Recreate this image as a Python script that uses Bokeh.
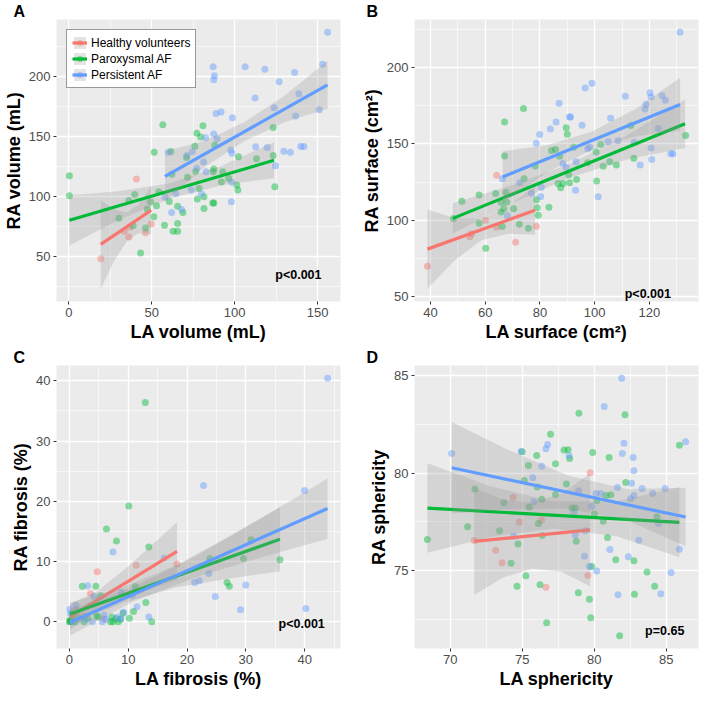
import numpy as np
from bokeh.plotting import figure
from bokeh.models import Range1d, FixedTicker, Label, Legend, LegendItem
from bokeh.layouts import gridplot
from bokeh.embed import file_html
from bokeh.resources import INLINE

FONT = "Liberation Sans"
GROUPS = ["Healthy volunteers", "Paroxysmal AF", "Persistent AF"]
COLORS = ["#F8766D", "#00BA38", "#619CFF"]

# ---------------- Panel A : volume ----------------
A_HV_X = [19.3, 33.4, 36.2, 36.8, 40.8, 46.3, 49.7]
A_HV_Y = [48, 71, 66, 74.2, 114.5, 69.6, 77]
A_PAF_X = [0.4, 0.4, 30.2, 36.2, 38.8, 39.8, 43.3, 46.3, 47.3, 49.3, 51.3, 51.5, 52.9, 54.3, 56.7, 57.7,
           60.6, 61.6, 62.2, 62.9, 65.6, 65.6, 65.6, 68.8, 71.0, 71.6, 76.0, 76.5, 77.2, 77.5, 78.5, 79.5,
           80.9, 81.5, 81.5, 86.8, 87.5, 87.1, 87.4, 88.0, 92.0, 92.8, 96.4, 101.3, 101.9, 102.3, 113.2,
           123.2, 123.2, 124.2]
A_PAF_Y = [117.2, 100.5, 81.7, 96.5, 75.5, 101.6, 52.7, 73.7, 89.5, 95.4, 83, 136.8, 92.2, 103.8, 159.7, 76,
           95.7, 137.4, 118.5, 71, 71, 91.7, 77.4, 86.6, 132.5, 116, 141.7, 120.7, 152.7, 97.8, 106.5, 149.5,
           158.9, 89.8, 99.7, 94.4, 94.4, 120.6, 122.8, 142.7, 112, 120.6, 114.8, 109.4, 105.3, 133, 131.4,
           157.5, 134.1, 108]
A_PER_X = [60, 58, 62, 64.6, 68, 71.2, 74.5, 73.9, 77.1, 80.1, 81.3, 82.8, 82.5, 87, 87.8, 87.4, 87.4, 88.8,
           89.4, 91.8, 97.7, 98.3, 98.3, 98, 98.7, 106.3, 112.3, 112.6, 118.2, 119.6, 123.8, 124.6, 126.8,
           129.6, 133.5, 136.1, 136.7, 138.7, 139.9, 141.7, 151, 153, 156]
A_PER_Y = [136.8, 99.2, 86.5, 102.4, 89, 134.1, 137.3, 105.3, 123.4, 101.9, 128.7, 120.6, 148.9, 208, 200.5,
           197.3, 152.1, 169, 148.1, 170.4, 138.7, 136, 111.8, 95.6, 165.6, 208, 182, 141.4, 206.1, 140.8,
           173.9, 125.5, 195.6, 137.6, 136.8, 203.2, 167, 185.5, 141.6, 141.6, 172.3, 210.2, 236.8]
A_FIT_X = [[19.3, 49.7], [0.4, 123.7], [58, 156]]
A_FIT_Y = [[60, 88.4], [80, 130.1], [116.7, 193]]
A_BAND_X = [[19.3, 27, 35, 42, 49.7], [0.4, 30, 60, 92, 123.7], [58, 82, 106, 130, 156]]
A_BAND_LO = [[23, 45.2, 62.6, 69.2, 68.4], [59, 80.2, 97.8, 109.3, 115.2], [95.7, 124.4, 146.1, 161.8, 173]]
A_BAND_HI = [[97, 89.2, 86.6, 93.2, 108.4], [101, 104.2, 110.8, 125.3, 145.2], [137.7, 146.4, 162.1, 183.8, 213]]

# ---------------- Panel B : surface ----------------
B_HV_X = [38.9, 54.4, 55, 60.1, 64.1, 64.2, 71.1, 78.7]
B_HV_Y = [69.6, 89, 91, 99.8, 95.3, 129.4, 85.5, 96]
B_PAF_X = [48.4, 51.5, 57.8, 57.8, 60.2, 63.8, 65.8, 65.8, 66.2, 66.8, 67.1, 67.1, 67.6, 67.9, 70.4, 72.5,
           74, 74.2, 75.8, 78.3, 78.8, 79, 79.4, 83.3, 84.2, 85.7, 86.6, 87.2, 87.6, 88.4, 89.6, 90, 90.5,
           90.8, 92.3, 93.4, 97.4, 100.5, 100.7, 102.2, 103.1, 105.5, 107.9, 113.2, 114.3, 133.2]
B_PAF_Y = [101.1, 112.3, 116.4, 97.9, 81.5, 117.4, 111.7, 105.3, 95.7, 107.4, 164.5, 142.1, 118.1, 111.7,
           107.4, 97.2, 173.4, 127.2, 94.7, 135.5, 113.4, 108.1, 103.2, 108.5, 145.7, 146.4, 124, 141.9,
           121.3, 124, 160.6, 156.4, 129.8, 124.5, 147.9, 126.6, 137.7, 144.7, 125.7, 149.6, 135.3, 138.3,
           136.2, 162.1, 140.6, 155.5]
B_PER_X = [66.3, 68.1, 72.6, 76.9, 78.7, 79.9, 80.5, 80.3, 83.8, 85.9, 87, 88.4, 89.6, 90.8, 91.2, 93, 93.2,
           95.4, 96.5, 97.4, 98.2, 99, 101.3, 104.9, 105.8, 108.5, 111.2, 114.4, 116.6, 118.4, 118.8, 120.2,
           120.6, 120.6, 120.8, 123.2, 124.6, 125.8, 127.8, 128.6, 131.2]
B_PER_Y = [127.2, 102.8, 124.5, 117.7, 150.5, 156.2, 121.5, 115.5, 159.8, 164.5, 176.8, 137.2, 134.7, 167.7,
           167.7, 119.6, 138.3, 162.3, 186.8, 146.8, 147.9, 190, 115.3, 151.5, 167, 152.1, 181.3, 151.1,
           136.2, 173, 176.2, 183.6, 180.9, 147.4, 139.8, 160.2, 181.9, 178.7, 143.6, 143.6, 223.4]
B_FIT_X = [[38.9, 78.2], [48.2, 133], [66.4, 131.2]]
B_FIT_Y = [[80.9, 106.4], [101.1, 163.3], [128.3, 176]]
B_BAND_X = [[38.9, 48.7, 58.6, 68.4, 78.2], [48.2, 69.4, 90.6, 111.8, 133], [66.4, 82.6, 98.8, 115, 131.2]]
B_BAND_LO = [[54.9, 73.3, 86.7, 91.0, 90.4], [91.1, 110.7, 127.7, 139.8, 147.3], [111.3, 131.2, 146.1, 155.1, 158.5]]
B_BAND_HI = [[106.9, 101.3, 100.7, 109.0, 122.4], [111.1, 122.7, 136.7, 155.8, 179.3], [145.3, 149.2, 158.1, 173.1, 193.5]]

# ---------------- Panel C : fibrosis ----------------
C_HV_X = [0.5, 1.2, 2.5, 3.6, 4.75, 5.8, 11.35, 18.3]
C_HV_Y = [0.5, 2.0, 1.0, 4.7, 8.3, 0.4, 9.4, 9.6]
C_PAF_X = [12.9, 10.1, 6.3, 8.0, 13.5, 2.2, 4.5, 5.3, 0, 0.1, 0.2, 0.45, 1.4, 2.5, 3.2, 4.6, 4.9, 7.0, 7.4,
           7.9, 8.3, 8.7, 9.1, 10.2, 10.9, 11.2, 13, 14, 23.9, 26.8, 27.2, 29.6, 30.9, 35.8, 7.2, 0.3, 1.0]
C_PAF_Y = [36.4, 19.2, 15.4, 13.4, 12.4, 5.9, 5.9, 4.3, 0, 0.3, 0, 1.3, 0.8, 0, 0.6, 1.0, 0.8, 0, 0,
           0.5, 0, 0.4, 1.4, 0.6, 1.7, 5.8, 3.2, 0, 10.5, 6.5, 5.9, 10.5, 13.6, 10.3, 0.8, 0.1, 0]
C_PER_X = [43.9, 22.8, 40, 7.4, 16.1, 3.1, 4.2, 21.3, 22.1, 23.7, 30, 24.8, 29.1, 40.2, 13.5, 11.5, 0.1, 1.1,
           5.6, 5.9, 8.7, 9.2, 10.7, 8.8, 1.8, 0.6, 2.8, 3.9, 8.1, 6.2, 0.2]
C_PER_Y = [40.4, 22.6, 21.8, 11.6, 10.6, 6.0, 4.2, 6.5, 6.8, 8.0, 6.1, 4.2, 2.0, 2.2, 0.8, 2.5, 2.1, 2.7,
           0, 1.1, 0.5, 1.6, 4.4, 4.9, 0.4, 0, 0.4, 0, 0.75, 0.4, 1.4]
C_FIT_X = [[0.1, 18.3], [0.1, 35.8], [0.1, 43.9]]
C_FIT_Y = [[0.8, 11.7], [1.3, 13.7], [-0.1, 18.8]]
C_BAND_X = [[0.1, 4.65, 9.2, 13.75, 18.3], [0.1, 9, 18, 27, 35.8], [0.1, 11, 22, 33, 43.9]]
C_BAND_LO = [[-1.4, 2.03, 3.95, 5.48, 6.9], [-0.5, 3.09, 5.71, 7.13, 8.4], [-2.3, 3.4, 7.55, 10.8, 13.8]]
C_BAND_HI = [[3.0, 5.03, 8.55, 12.48, 16.5], [3.1, 5.69, 9.31, 14.13, 19.0], [2.1, 5.8, 11.15, 17.4, 23.8]]

# ---------------- Panel D : sphericity ----------------
D_HV_X = [71.67, 73.16, 73.61, 74.37, 74.8, 76.36, 76.65, 79.72, 79.56]
D_HV_Y = [76.54, 76.04, 75.4, 78.77, 77.5, 77.58, 74.14, 80.02, 74.75]
D_PAF_X = [68.42, 71.21, 71.72, 73.43, 73.73, 74.23, 74.64, 74.71, 75.15, 75.26, 75.44, 75.49, 76.01, 76.06,
           76.13, 76.24, 76.36, 76.4, 76.7, 76.97, 77.32, 77.32, 77.91, 78.19, 78.07, 78.3, 78.46, 78.69,
           78.76, 78.9, 78.94, 79.67, 79.76, 79.83, 79.9, 80.02, 80.18, 80.63, 80.82, 80.93, 81.04, 81.16,
           81.5, 81.77, 82.14, 82.19, 82.76, 82.8, 83.67, 84.2, 84.36, 85.92, 75.0]
D_PAF_Y = [76.59, 77.25, 79.19, 77.05, 78.48, 75.38, 74.19, 76.37, 79.62, 74.73, 80.4, 78.26, 80.91, 79.29,
           77.42, 74.27, 78.66, 76.8, 72.32, 82.0, 80.48, 78.91, 81.19, 81.21, 79.44, 80.76, 78.21, 78.21,
           76.51, 73.86, 83.08, 73.53, 72.58, 75.21, 81.06, 77.91, 78.58, 77.53, 78.86, 76.7, 80.81, 78.9,
           75.56, 71.66, 83.0, 79.52, 75.51, 73.78, 74.93, 74.19, 77.75, 81.44, 81.1]
D_PER_X = [70.11, 74.92, 75.74, 76.36, 76.65, 76.77, 75.83, 78.26, 78.6, 78.69, 78.92, 79.38, 79.33, 79.67,
           79.83, 80.18, 80.13, 80.47, 80.7, 81.62, 81.09, 81.66, 81.91, 81.96, 82.07, 82.37, 82.53, 82.6,
           82.71, 82.76, 82.76, 83.1, 83.33, 84.06, 84.47, 84.63, 84.93, 85.34, 85.92, 86.35, 74.41]
D_PER_Y = [81.01, 81.11, 79.77, 80.36, 81.26, 81.47, 78.53, 80.9, 77.96, 76.84, 79.1, 77.05, 75.73, 75.21,
           78.29, 74.98, 78.96, 78.96, 83.43, 79.27, 76.08, 73.76, 84.87, 81.01, 81.54, 75.71, 78.69, 79.49,
           80.81, 80.12, 78.86, 76.56, 79.21, 78.96, 77.42, 73.81, 79.21, 74.9, 76.09, 81.61, 76.76]
D_FIT_X = [[71.67, 79.72], [68.42, 85.92], [70.11, 86.35]]
D_FIT_Y = [[76.5, 77.09], [78.21, 77.48], [80.28, 77.75]]
D_BAND_X = [[71.67, 73.68, 75.7, 77.71, 79.72], [68.42, 72.8, 77.17, 81.55, 85.92], [70.11, 74.17, 78.23, 82.29, 86.35]]
D_BAND_LO = [[73.75, 74.65, 75.1, 74.94, 74.19], [75.91, 76.73, 77.15, 76.76, 75.68], [77.93, 78.15, 78.17, 77.59, 76.25]]
D_BAND_HI = [[79.25, 78.65, 78.5, 78.94, 79.99], [80.51, 79.33, 78.55, 78.56, 79.28], [82.63, 81.15, 79.87, 79.19, 79.25]]

# tick values
A_XT, A_XM, A_YT, A_YM = [0, 50, 100, 150], [25, 75, 125], [50, 100, 150, 200], [25, 75, 125, 175, 225]
B_XT, B_XM, B_YT, B_YM = [40, 60, 80, 100, 120], [50, 70, 90, 110, 130], [50, 100, 150, 200], [75, 125, 175, 225]
C_XT, C_XM, C_YT, C_YM = [0, 10, 20, 30, 40], [5, 15, 25, 35, 45], [0, 10, 20, 30, 40], [5, 15, 25, 35]
D_XT, D_XM, D_YT, D_YM = [70, 75, 80, 85], [72.5, 77.5, 82.5], [75, 80, 85], [72.5, 77.5, 82.5]

FW = 284


def make_panel(letter, xlab, ylab, px, py, fx, fy, bx, blo, bhi, xt, xm, yt, ym,
               ptext, ppos, fh, borders, letter_dx, legend=False):
    allx = [v for s in px + fx + bx for v in s]
    ally = [v for s in py + blo + bhi for v in s]
    x0, x1 = min(allx), max(allx)
    y0, y1 = min(ally), max(ally)
    dx, dy = 0.05 * (x1 - x0), 0.05 * (y1 - y0)
    xs, xe, ys, ye = x0 - dx, x1 + dx, y0 - dy, y1 + dy
    p = figure(frame_width=FW, frame_height=fh, title=letter,
               x_range=Range1d(xs, xe), y_range=Range1d(ys, ye),
               output_backend="svg", toolbar_location=None,
               min_border_left=borders[0], min_border_right=borders[1],
               min_border_top=borders[2], min_border_bottom=borders[3])
    # panel letter as the figure title, pulled left over the axis area
    p.title.align = "left"
    p.title.offset = letter_dx
    p.title.standoff = 0
    p.title.text_font = FONT
    p.title.text_font_size = "16px"
    p.title.text_font_style = "bold"
    p.title.text_color = "black"
    p.background_fill_color = "#EBEBEB"
    p.border_fill_color = "white"
    p.outline_line_color = None
    p.xaxis.ticker = FixedTicker(ticks=xt, minor_ticks=xm)
    p.yaxis.ticker = FixedTicker(ticks=yt, minor_ticks=ym)
    for g in (p.xgrid[0], p.ygrid[0]):
        g.grid_line_color = "white"
        g.grid_line_width = 1.3
        g.minor_grid_line_color = "white"
        g.minor_grid_line_width = 0.6
    for ax in (p.xaxis[0], p.yaxis[0]):
        ax.axis_line_color = None
        ax.major_tick_line_color = "#333333"
        ax.major_tick_out = 3
        ax.major_tick_in = 0
        ax.minor_tick_line_color = None
        ax.major_label_text_font = FONT
        ax.major_label_text_font_size = "13px"
        ax.major_label_text_color = "#4D4D4D"
        ax.major_label_standoff = 2
        ax.axis_label_text_font = FONT
        ax.axis_label_text_font_size = "18px"
        ax.axis_label_text_font_style = "bold"
        ax.axis_label_text_color = "black"
        ax.axis_label_standoff = 2
    p.xaxis.axis_label = xlab
    p.yaxis.axis_label = ylab

    rends = []
    for i in range(3):
        r_pt = p.scatter(px[i], py[i], size=7, fill_color=COLORS[i], fill_alpha=0.45, line_color=None)
        rends.append([r_pt])
    for i in range(3):
        r_band = p.varea(x=bx[i], y1=blo[i], y2=bhi[i], fill_color="#999999", fill_alpha=0.28)
        r_line = p.line(fx[i], fy[i], line_color=COLORS[i], line_width=3.2)
        rends[i] = [r_band, r_line] + rends[i]

    p.add_layout(Label(x=ppos[0], y=ppos[1], text=ptext, text_font=FONT, text_font_size="12.5px",
                       text_font_style="bold", text_align="center", text_baseline="middle",
                       text_color="black"))
    if legend:
        items = [LegendItem(label=GROUPS[i], renderers=rends[i]) for i in range(3)]
        leg = Legend(items=items, location="top_left", border_line_color="#333333",
                     border_line_width=1, background_fill_color="white", background_fill_alpha=1,
                     label_text_font=FONT, label_text_font_size="12px", label_text_color="black",
                     glyph_width=15, glyph_height=15, label_height=15, spacing=1, padding=5,
                     label_standoff=4, margin=10)
        p.add_layout(leg)
    return p


pA = make_panel("A", "LA volume (mL)", "RA volume (mL)",
                [A_HV_X, A_PAF_X, A_PER_X], [A_HV_Y, A_PAF_Y, A_PER_Y], A_FIT_X, A_FIT_Y,
                A_BAND_X, A_BAND_LO, A_BAND_HI, A_XT, A_XM, A_YT, A_YM,
                "p<0.001", (138.4, 34), 282, (44, 18, 0, 45), -43, legend=True)
pB = make_panel("B", "LA surface (cm²)", "RA surface (cm²)",
                [B_HV_X, B_PAF_X, B_PER_X], [B_HV_Y, B_PAF_Y, B_PER_Y], B_FIT_X, B_FIT_Y,
                B_BAND_X, B_BAND_LO, B_BAND_HI, B_XT, B_XM, B_YT, B_YM,
                "p<0.001", (119.4, 51.5), 282, (55, 2, 0, 45), -48)
pC = make_panel("C", "LA fibrosis (%)", "RA fibrosis (%)",
                [C_HV_X, C_PAF_X, C_PER_X], [C_HV_Y, C_PAF_Y, C_PER_Y], C_FIT_X, C_FIT_Y,
                C_BAND_X, C_BAND_LO, C_BAND_HI, C_XT, C_XM, C_YT, C_YM,
                "p<0.001", (39.5, -0.4), 283, (44, 18, 0, 43), -43)
pD = make_panel("D", "LA sphericity", "RA sphericity",
                [D_HV_X, D_PAF_X, D_PER_X], [D_HV_Y, D_PAF_Y, D_PER_Y], D_FIT_X, D_FIT_Y,
                D_BAND_X, D_BAND_LO, D_BAND_HI, D_XT, D_XM, D_YT, D_YM,
                "p=0.65", (84.9, 71.9), 283, (55, 2, 0, 43), -48)

grid = gridplot([[pA, pB], [pC, pD]], toolbar_location=None)
open("out.html", "w").write(file_html(grid, INLINE))
